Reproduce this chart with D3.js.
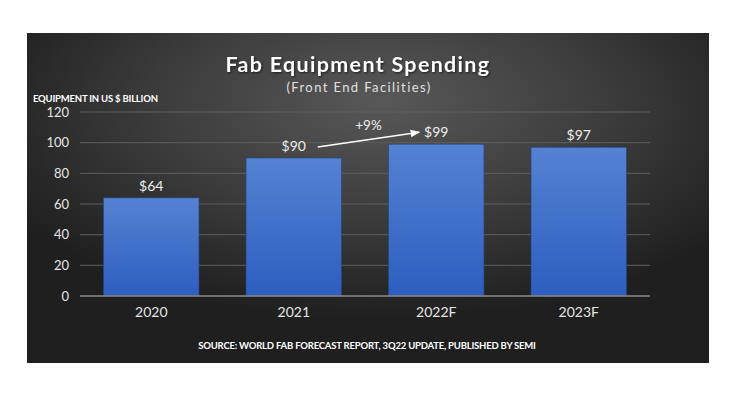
<!DOCTYPE html>
<html>
<head>
<meta charset="utf-8">
<script src="https://cdn.jsdelivr.net/npm/d3@7"></script>
<style>
  body { margin: 0; background: #fff; }
  svg { display: block; }
</style>
</head>
<body>
<div id="chart"></div>
<script>
const years = ["2020", "2021", "2022F", "2023F"];
const spending = [64, 90, 99, 97];
const valueLabels = ["$64", "$90", "$99", "$97"];
const yTicks = [0, 20, 40, 60, 80, 100, 120];
const growth = {from: "2021", to: "2022F", label: "+9%"};

const width = 740, height = 400;
const panel = {x: 27, y: 33, w: 682, h: 330};
const plot = {left: 80, right: 650, top: 112, bottom: 296};
const font = "Lato, 'Open Sans', sans-serif";

const svg = d3.select("#chart").append("svg")
    .attr("width", width)
    .attr("height", height);

const defs = svg.append("defs");

const bg = defs.append("radialGradient")
    .attr("id", "bg")
    .attr("cx", "0.52").attr("cy", "0.25").attr("r", "0.62")
    .attr("fx", "0.52").attr("fy", "0.2");
bg.append("stop").attr("offset", "0%").attr("stop-color", "#585858");
bg.append("stop").attr("offset", "55%").attr("stop-color", "#3b3b3b");
bg.append("stop").attr("offset", "100%").attr("stop-color", "#1f1f1f");

const barGrad = defs.append("linearGradient")
    .attr("id", "bar")
    .attr("x1", 0).attr("y1", 0).attr("x2", 0).attr("y2", 1);
barGrad.append("stop").attr("offset", "0%").attr("stop-color", "#5582d2");
barGrad.append("stop").attr("offset", "100%").attr("stop-color", "#2d5ec0");

defs.append("marker")
    .attr("id", "arrow")
    .attr("viewBox", "0 0 10 10")
    .attr("refX", 9).attr("refY", 5)
    .attr("markerWidth", 6).attr("markerHeight", 6)
    .attr("orient", "auto")
    .append("path")
    .attr("d", "M0,1 L10,5 L0,9 Z")
    .attr("fill", "#fff");

svg.append("rect")
    .attr("x", panel.x).attr("y", panel.y)
    .attr("width", panel.w).attr("height", panel.h)
    .attr("fill", "url(#bg)");

const x = d3.scaleBand()
    .domain(years)
    .range([plot.left, plot.right])
    .paddingInner(0.33)
    .paddingOuter(0.165);

const y = d3.scaleLinear()
    .domain([0, 120])
    .range([plot.bottom, plot.top]);

// gridlines
svg.append("g")
    .selectAll("line")
    .data(yTicks.filter(d => d > 0))
    .enter()
    .append("line")
    .attr("x1", plot.left).attr("x2", plot.right)
    .attr("y1", d => y(d)).attr("y2", d => y(d))
    .attr("stroke", "#5e5e5e")
    .attr("stroke-width", 1);

// y axis labels
const yAxis = svg.append("g")
    .attr("transform", `translate(${plot.left},0)`)
    .call(d3.axisLeft(y).tickValues(yTicks).tickSize(0).tickPadding(11));
yAxis.select(".domain").remove();
yAxis.selectAll("text")
    .attr("fill", "#e6e6e6")
    .style("font-family", font)
    .style("font-size", "13px");

// bars
svg.append("g")
    .selectAll("rect")
    .data(years)
    .enter()
    .append("rect")
    .attr("x", d => x(d))
    .attr("y", (d, i) => y(spending[i]))
    .attr("width", x.bandwidth())
    .attr("height", (d, i) => y(0) - y(spending[i]))
    .attr("fill", "url(#bar)")
    .attr("stroke", "#24447e")
    .attr("stroke-width", 0.6);

// baseline
svg.append("line")
    .attr("x1", plot.left).attr("x2", plot.right)
    .attr("y1", y(0)).attr("y2", y(0))
    .attr("stroke", "#8a8a8a")
    .attr("stroke-width", 1.5);

// x axis labels
const xAxis = svg.append("g")
    .attr("transform", `translate(0,${plot.bottom})`)
    .call(d3.axisBottom(x).tickSize(0).tickPadding(11));
xAxis.select(".domain").remove();
xAxis.selectAll("text")
    .attr("fill", "#e6e6e6")
    .style("font-family", font)
    .style("font-size", "14px");

// value labels
svg.append("g")
    .selectAll("text")
    .data(years)
    .enter()
    .append("text")
    .attr("x", d => x(d) + x.bandwidth() / 2)
    .attr("y", (d, i) => y(spending[i]) - 7)
    .attr("text-anchor", "middle")
    .attr("fill", "#eeeeee")
    .style("font-family", font)
    .style("font-size", "14px")
    .text((d, i) => valueLabels[i]);

// growth arrow
const iFrom = years.indexOf(growth.from), iTo = years.indexOf(growth.to);
const ax1 = x(growth.from) + x.bandwidth() / 2 + 24;
const ay1 = y(spending[iFrom]) - 11;
const ax2 = x(growth.to) + x.bandwidth() / 2 - 17;
const ay2 = y(spending[iTo]) - 12;
svg.append("line")
    .attr("x1", ax1).attr("y1", ay1)
    .attr("x2", ax2).attr("y2", ay2)
    .attr("stroke", "#fff")
    .attr("stroke-width", 1.6)
    .attr("marker-end", "url(#arrow)");
svg.append("text")
    .attr("x", (ax1 + ax2) / 2)
    .attr("y", ay2 - 2)
    .attr("text-anchor", "middle")
    .attr("fill", "#eeeeee")
    .style("font-family", font)
    .style("font-size", "13.5px")
    .text(growth.label);

// titles
svg.append("text")
    .attr("x", 358).attr("y", 72)
    .attr("text-anchor", "middle")
    .attr("fill", "#ffffff")
    .style("font-family", font)
    .style("font-weight", "bold")
    .style("font-size", "21.5px")
    .style("letter-spacing", "1.3px")
    .style("filter", "drop-shadow(1px 1px 1px rgba(0,0,0,0.6))")
    .text("Fab Equipment Spending");

svg.append("text")
    .attr("x", 359).attr("y", 92)
    .attr("text-anchor", "middle")
    .attr("fill", "#e0e0e0")
    .style("font-family", font)
    .style("font-size", "13px")
    .style("letter-spacing", "1.4px")
    .text("(Front End Facilities)");

svg.append("text")
    .attr("x", 33).attr("y", 102)
    .attr("fill", "#ffffff")
    .style("font-family", font)
    .style("font-weight", "bold")
    .style("font-size", "9.5px")
    .style("letter-spacing", "-0.2px")
    .text("EQUIPMENT IN US $ BILLION");

svg.append("text")
    .attr("x", 367).attr("y", 349)
    .attr("text-anchor", "middle")
    .attr("fill", "#ffffff")
    .style("font-family", font)
    .style("font-weight", "bold")
    .style("font-size", "9.5px")
    .style("letter-spacing", "-0.2px")
    .text("SOURCE: WORLD FAB FORECAST REPORT, 3Q22 UPDATE, PUBLISHED BY SEMI");
</script>
</body>
</html>
